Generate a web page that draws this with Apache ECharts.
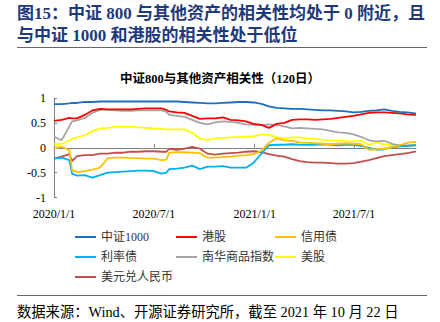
<!DOCTYPE html>
<html><head><meta charset="utf-8">
<script src="https://cdn.jsdelivr.net/npm/echarts@6/dist/echarts.min.js"></script>
<style>html,body{margin:0;padding:0;background:#fff}#c{width:440px;height:322px}</style>
</head><body><div id="c"></div>
<script>
const headingLines = ['图15：中证 800 与其他资产的相关性均处于 0 附近，且', '与中证 1000 和港股的相关性处于低位'];
const chartTitle = '中证800与其他资产相关性（120日）';
const sourceNote = '数据来源：Wind、开源证券研究所，截至 2021 年 10 月 22 日';

const dates = ['2020-01-01','2020-01-15','2020-01-29','2020-02-03','2020-02-12','2020-02-26','2020-03-11','2020-03-25',
  '2020-04-08','2020-04-22','2020-05-06','2020-05-20','2020-06-03','2020-06-17','2020-07-01','2020-07-15','2020-07-24',
  '2020-07-29','2020-08-12','2020-08-26','2020-09-09','2020-09-23','2020-10-07','2020-10-21','2020-11-04','2020-11-18',
  '2020-12-02','2020-12-16','2020-12-30','2021-01-13','2021-01-27','2021-02-10','2021-02-24','2021-03-10','2021-03-24',
  '2021-04-07','2021-04-21','2021-05-05','2021-05-19','2021-06-02','2021-06-16','2021-06-30','2021-07-14','2021-07-28',
  '2021-08-11','2021-08-25','2021-09-08','2021-09-22','2021-10-06','2021-10-20','2021-10-22'];

const seriesNames = ['中证1000','港股','信用债','利率债','南华商品指数','美股','美元兑人民币'];

const csi1000 = [0.875,0.875,0.89,0.90,0.90,0.92,0.92,0.93,0.93,0.93,0.93,0.93,0.93,0.93,0.93,0.93,0.93,
  0.93,0.93,0.92,0.91,0.90,0.89,0.89,0.90,0.91,0.92,0.92,0.91,0.88,0.83,0.80,0.79,0.78,0.78,0.77,0.76,0.75,0.75,
  0.74,0.73,0.71,0.72,0.74,0.75,0.77,0.74,0.72,0.71,0.69,0.68];
const hkStocks = [0.54,0.56,0.60,0.59,0.59,0.66,0.75,0.78,0.77,0.77,0.77,0.77,0.78,0.79,0.79,0.79,0.76,
  0.73,0.71,0.70,0.64,0.58,0.59,0.59,0.61,0.56,0.55,0.53,0.48,0.46,0.40,0.48,0.50,0.56,0.57,0.57,0.56,0.57,0.58,
  0.60,0.62,0.64,0.67,0.70,0.71,0.71,0.70,0.69,0.67,0.66,0.66];
const creditBonds = [-0.01,0.02,-0.05,-0.45,-0.49,-0.47,-0.44,-0.40,-0.21,-0.20,-0.20,-0.21,-0.21,-0.22,-0.22,-0.25,-0.24,
  -0.10,-0.09,-0.09,-0.10,-0.11,-0.20,-0.20,-0.19,-0.18,-0.16,-0.15,-0.13,-0.06,0.10,0.19,0.15,0.14,0.11,0.10,0.09,0.08,0.07,
  0.08,0.09,0.08,0.07,-0.04,-0.03,-0.02,0.01,0.05,0.10,0.12,0.10];
const rateBonds = [-0.22,-0.20,-0.25,-0.52,-0.56,-0.55,-0.60,-0.55,-0.50,-0.49,-0.48,-0.47,-0.46,-0.46,-0.47,-0.52,-0.50,
  -0.43,-0.42,-0.40,-0.36,-0.43,-0.38,-0.38,-0.37,-0.40,-0.40,-0.40,-0.30,-0.12,0.05,0.06,0.06,0.07,0.06,0.06,0.06,0.07,0.06,
  0.05,0.06,0.06,0.04,0.00,-0.04,-0.03,0.01,0.03,0.04,0.05,0.05];
const nanhua = [0.22,0.15,0.43,0.53,0.55,0.60,0.70,0.76,0.76,0.75,0.74,0.74,0.75,0.75,0.75,0.75,0.72,
  0.66,0.64,0.62,0.56,0.50,0.47,0.51,0.53,0.52,0.50,0.47,0.46,0.46,0.47,0.46,0.43,0.39,0.40,0.39,0.38,0.37,0.34,
  0.31,0.30,0.27,0.22,0.15,0.13,0.14,0.08,0.05,0.04,0.05,0.05];
const usStocks = [0.07,0.08,0.14,0.18,0.21,0.25,0.33,0.39,0.40,0.42,0.42,0.42,0.41,0.40,0.39,0.38,0.37,
  0.37,0.37,0.37,0.30,0.18,0.16,0.19,0.20,0.21,0.22,0.22,0.23,0.27,0.26,0.21,0.19,0.21,0.21,0.19,0.18,0.16,0.15,
  0.14,0.14,0.13,0.14,0.06,0.11,0.07,0.05,0.03,0.02,0.05,0.05];
const usdCny = [-0.22,-0.18,-0.13,-0.27,-0.17,-0.15,-0.15,-0.12,-0.12,-0.10,-0.10,-0.08,-0.08,-0.07,-0.07,-0.08,-0.08,
  -0.02,-0.04,-0.02,0.02,-0.02,-0.12,-0.14,-0.12,-0.11,-0.10,-0.08,-0.07,-0.09,-0.13,-0.16,-0.18,-0.23,-0.27,-0.29,-0.30,-0.30,-0.31,
  -0.32,-0.32,-0.31,-0.28,-0.25,-0.21,-0.17,-0.15,-0.13,-0.11,-0.08,-0.07];

const seriesValues = [csi1000, hkStocks, creditBonds, rateBonds, nanhua, usStocks, usdCny];
const seriesColors = ['#1f6fc0','#ff0000','#ffc000','#00b0f0','#a5a5a5','#ffff00','#c0504d'];

const xTickLabels = ['2020/1/1','2020/7/1','2021/1/1','2021/7/1'];
const yMin = -1, yMax = 1, yStep = 0.5;

function parseSlash(s){ const p = s.split('/').map(Number); return Date.UTC(p[0], p[1]-1, p[2]); }
function parseDash(s){ const p = s.split('-').map(Number); return Date.UTC(p[0], p[1]-1, p[2]); }
const xTickValues = xTickLabels.map(parseSlash);
const xMin = parseDash(dates[0]);
const xMax = parseDash(dates[dates.length-1]);
function fmtDate(v){ const d = new Date(v); return d.getUTCFullYear() + '/' + (d.getUTCMonth()+1) + '/' + d.getUTCDate(); }

const serif = '"Liberation Serif","Times New Roman","Noto Sans CJK SC",serif';
const cjk = '"Liberation Serif","Noto Sans CJK SC",sans-serif';

const chart = echarts.init(document.getElementById('c'), null, {renderer: 'svg'});
const series = seriesNames.map((name, i) => ({
  name, type: 'line', xAxisIndex: 0, yAxisIndex: 0,
  data: dates.map((d, j) => [parseDash(d), seriesValues[i][j]]),
  showSymbol: false, symbol: 'none', smooth: false,
  lineStyle: {color: seriesColors[i], width: 1.8},
  itemStyle: {color: seriesColors[i]},
  z: 10 - i
}));

const legendCommon = {
  orient: 'vertical', itemGap: 8, itemWidth: 21, itemHeight: 2, icon: 'rect',
  textStyle: {fontSize: 12, color: '#333', fontFamily: cjk, lineHeight: 12},
  padding: 0
};

chart.setOption({
  animation: false,
  title: {
    text: chartTitle, left: 'center', top: 68,
    textStyle: {fontSize: 12.5, fontWeight: 'bold', color: '#000', fontFamily: cjk}
  },
  grid: {left: 54, right: 24, top: 98, bottom: 124.5, containLabel: false},
  xAxis: [{
    type: 'value', min: xMin, max: xMax, position: 'bottom', scale: true,
    axisLine: {show: false, onZero: false},
    axisTick: {show: false},
    splitLine: {show: false},
    axisLabel: {
      customValues: xTickValues, margin: 10, color: '#000', fontSize: 12, fontFamily: serif,
      hideOverlap: false, formatter: fmtDate
    }
  }, {
    type: 'value', min: xMin, max: xMax, position: 'bottom', scale: true,
    axisLine: {show: true, onZero: true, onZeroAxisIndex: 0, lineStyle: {color: '#808080', width: 1}},
    axisTick: {show: true, inside: true, length: 4, customValues: xTickValues, lineStyle: {color: '#808080'}},
    axisLabel: {show: false},
    splitLine: {show: false}
  }],
  yAxis: {
    type: 'value', min: yMin, max: yMax, interval: yStep,
    axisLine: {show: true, lineStyle: {color: '#808080', width: 1}},
    axisTick: {show: true, inside: true, length: 3, lineStyle: {color: '#808080'}},
    splitLine: {show: false},
    axisLabel: {color: '#000', fontSize: 12, fontFamily: serif, margin: 8}
  },
  legend: [
    Object.assign({}, legendCommon, {data: ['中证1000','利率债','美元兑人民币'], left: 75, top: 231}),
    Object.assign({}, legendCommon, {data: ['港股','南华商品指数'], left: 176, top: 231}),
    Object.assign({}, legendCommon, {data: ['信用债','美股'], left: 275, top: 231})
  ],
  series,
  graphic: [
    {type: 'text', x: 17, y: 13, style: {text: headingLines[0], fontSize: 17, fontWeight: 'bold', fontFamily: cjk, fill: '#1f3a7a', verticalAlign: 'middle'}},
    {type: 'text', x: 17, y: 35, style: {text: headingLines[1], fontSize: 17, fontWeight: 'bold', fontFamily: cjk, fill: '#1f3a7a', verticalAlign: 'middle'}},
    {type: 'line', shape: {x1: 17, y1: 47.5, x2: 427, y2: 47.5}, style: {stroke: '#666', lineWidth: 1}},
    {type: 'line', shape: {x1: 17, y1: 295.5, x2: 427, y2: 295.5}, style: {stroke: '#666', lineWidth: 1}},
    {type: 'text', x: 17, y: 312, style: {text: sourceNote, fontSize: 14.3, fontFamily: cjk, fill: '#000', verticalAlign: 'middle'}}
  ]
});
</script></body></html>
